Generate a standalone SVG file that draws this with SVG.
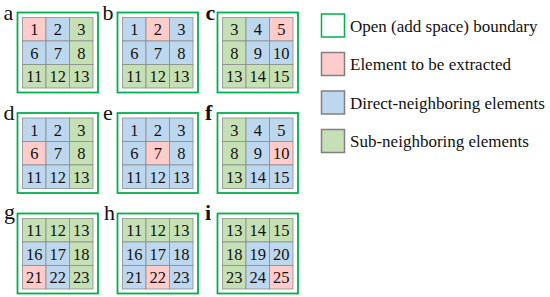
<svg xmlns="http://www.w3.org/2000/svg" width="550" height="297" viewBox="0 0 550 297">
<style>
.bd{fill:#fff;stroke:#00b050;stroke-width:1.8}
.P{fill:#ffcccc;stroke:#8c8c8c;stroke-width:0.8}
.B{fill:#bdd7ee;stroke:#8c8c8c;stroke-width:0.8}
.G{fill:#c5e0b4;stroke:#8c8c8c;stroke-width:0.8}
.n{font-family:"Liberation Serif","DejaVu Serif",serif;font-size:16.5px;fill:#111;text-anchor:middle}
.lb{font-family:"Liberation Serif","DejaVu Serif",serif;font-size:22px;fill:#111}
.lg{font-family:"Liberation Serif","DejaVu Serif",serif;font-size:17px;fill:#111}
.ls{stroke:#808080;stroke-width:1.5}
</style>
<rect width="550" height="297" fill="#fff"/>
<defs>
<g id="frame"><rect class="bd" x="0" y="0" width="80.5" height="80"/></g>
</defs>

<!-- panel a -->
<g id="panel-a" transform="translate(17.5,12.5)">
<use href="#frame"/>
<rect class="P" x="5" y="5" width="23.5" height="23.5"/><rect class="B" x="28.5" y="5" width="23.5" height="23.5"/><rect class="G" x="52" y="5" width="23.5" height="23.5"/>
<rect class="B" x="5" y="28.5" width="23.5" height="23.5"/><rect class="B" x="28.5" y="28.5" width="23.5" height="23.5"/><rect class="G" x="52" y="28.5" width="23.5" height="23.5"/>
<rect class="G" x="5" y="52" width="23.5" height="23.5"/><rect class="G" x="28.5" y="52" width="23.5" height="23.5"/><rect class="G" x="52" y="52" width="23.5" height="23.5"/>
<text class="n" x="16.75" y="22.5">1</text><text class="n" x="40.25" y="22.5">2</text><text class="n" x="63.75" y="22.5">3</text>
<text class="n" x="16.75" y="46">6</text><text class="n" x="40.25" y="46">7</text><text class="n" x="63.75" y="46">8</text>
<text class="n" x="16.75" y="69.5">11</text><text class="n" x="40.25" y="69.5">12</text><text class="n" x="63.75" y="69.5">13</text>
</g>
<text class="lb" x="3.5" y="19.5">a</text>

<!-- panel b -->
<g id="panel-b" transform="translate(117.5,12.5)">
<use href="#frame"/>
<rect class="B" x="5" y="5" width="23.5" height="23.5"/><rect class="P" x="28.5" y="5" width="23.5" height="23.5"/><rect class="B" x="52" y="5" width="23.5" height="23.5"/>
<rect class="B" x="5" y="28.5" width="23.5" height="23.5"/><rect class="B" x="28.5" y="28.5" width="23.5" height="23.5"/><rect class="B" x="52" y="28.5" width="23.5" height="23.5"/>
<rect class="G" x="5" y="52" width="23.5" height="23.5"/><rect class="G" x="28.5" y="52" width="23.5" height="23.5"/><rect class="G" x="52" y="52" width="23.5" height="23.5"/>
<text class="n" x="16.75" y="22.5">1</text><text class="n" x="40.25" y="22.5">2</text><text class="n" x="63.75" y="22.5">3</text>
<text class="n" x="16.75" y="46">6</text><text class="n" x="40.25" y="46">7</text><text class="n" x="63.75" y="46">8</text>
<text class="n" x="16.75" y="69.5">11</text><text class="n" x="40.25" y="69.5">12</text><text class="n" x="63.75" y="69.5">13</text>
</g>
<text class="lb" x="102.5" y="19.5">b</text>

<!-- panel c -->
<g id="panel-c" transform="translate(217.5,12.5)">
<use href="#frame"/>
<rect class="G" x="5" y="5" width="23.5" height="23.5"/><rect class="B" x="28.5" y="5" width="23.5" height="23.5"/><rect class="P" x="52" y="5" width="23.5" height="23.5"/>
<rect class="G" x="5" y="28.5" width="23.5" height="23.5"/><rect class="B" x="28.5" y="28.5" width="23.5" height="23.5"/><rect class="B" x="52" y="28.5" width="23.5" height="23.5"/>
<rect class="G" x="5" y="52" width="23.5" height="23.5"/><rect class="G" x="28.5" y="52" width="23.5" height="23.5"/><rect class="G" x="52" y="52" width="23.5" height="23.5"/>
<text class="n" x="16.75" y="22.5">3</text><text class="n" x="40.25" y="22.5">4</text><text class="n" x="63.75" y="22.5">5</text>
<text class="n" x="16.75" y="46">8</text><text class="n" x="40.25" y="46">9</text><text class="n" x="63.75" y="46">10</text>
<text class="n" x="16.75" y="69.5">13</text><text class="n" x="40.25" y="69.5">14</text><text class="n" x="63.75" y="69.5">15</text>
</g>
<text class="lb" x="205.5" y="19.5" font-weight="bold">c</text>

<!-- panel d -->
<g id="panel-d" transform="translate(17.5,113)">
<use href="#frame"/>
<rect class="B" x="5" y="5" width="23.5" height="23.5"/><rect class="B" x="28.5" y="5" width="23.5" height="23.5"/><rect class="G" x="52" y="5" width="23.5" height="23.5"/>
<rect class="P" x="5" y="28.5" width="23.5" height="23.5"/><rect class="B" x="28.5" y="28.5" width="23.5" height="23.5"/><rect class="G" x="52" y="28.5" width="23.5" height="23.5"/>
<rect class="B" x="5" y="52" width="23.5" height="23.5"/><rect class="B" x="28.5" y="52" width="23.5" height="23.5"/><rect class="G" x="52" y="52" width="23.5" height="23.5"/>
<text class="n" x="16.75" y="22.5">1</text><text class="n" x="40.25" y="22.5">2</text><text class="n" x="63.75" y="22.5">3</text>
<text class="n" x="16.75" y="46">6</text><text class="n" x="40.25" y="46">7</text><text class="n" x="63.75" y="46">8</text>
<text class="n" x="16.75" y="69.5">11</text><text class="n" x="40.25" y="69.5">12</text><text class="n" x="63.75" y="69.5">13</text>
</g>
<text class="lb" x="3.5" y="120">d</text>

<!-- panel e -->
<g id="panel-e" transform="translate(117.5,113)">
<use href="#frame"/>
<rect class="B" x="5" y="5" width="23.5" height="23.5"/><rect class="B" x="28.5" y="5" width="23.5" height="23.5"/><rect class="B" x="52" y="5" width="23.5" height="23.5"/>
<rect class="B" x="5" y="28.5" width="23.5" height="23.5"/><rect class="P" x="28.5" y="28.5" width="23.5" height="23.5"/><rect class="B" x="52" y="28.5" width="23.5" height="23.5"/>
<rect class="B" x="5" y="52" width="23.5" height="23.5"/><rect class="B" x="28.5" y="52" width="23.5" height="23.5"/><rect class="B" x="52" y="52" width="23.5" height="23.5"/>
<text class="n" x="16.75" y="22.5">1</text><text class="n" x="40.25" y="22.5">2</text><text class="n" x="63.75" y="22.5">3</text>
<text class="n" x="16.75" y="46">6</text><text class="n" x="40.25" y="46">7</text><text class="n" x="63.75" y="46">8</text>
<text class="n" x="16.75" y="69.5">11</text><text class="n" x="40.25" y="69.5">12</text><text class="n" x="63.75" y="69.5">13</text>
</g>
<text class="lb" x="103" y="120">e</text>

<!-- panel f -->
<g id="panel-f" transform="translate(217.5,113)">
<use href="#frame"/>
<rect class="G" x="5" y="5" width="23.5" height="23.5"/><rect class="B" x="28.5" y="5" width="23.5" height="23.5"/><rect class="B" x="52" y="5" width="23.5" height="23.5"/>
<rect class="G" x="5" y="28.5" width="23.5" height="23.5"/><rect class="B" x="28.5" y="28.5" width="23.5" height="23.5"/><rect class="P" x="52" y="28.5" width="23.5" height="23.5"/>
<rect class="G" x="5" y="52" width="23.5" height="23.5"/><rect class="B" x="28.5" y="52" width="23.5" height="23.5"/><rect class="B" x="52" y="52" width="23.5" height="23.5"/>
<text class="n" x="16.75" y="22.5">3</text><text class="n" x="40.25" y="22.5">4</text><text class="n" x="63.75" y="22.5">5</text>
<text class="n" x="16.75" y="46">8</text><text class="n" x="40.25" y="46">9</text><text class="n" x="63.75" y="46">10</text>
<text class="n" x="16.75" y="69.5">13</text><text class="n" x="40.25" y="69.5">14</text><text class="n" x="63.75" y="69.5">15</text>
</g>
<text class="lb" x="205" y="120" font-weight="bold">f</text>

<!-- panel g -->
<g id="panel-g" transform="translate(17.5,213.5)">
<use href="#frame"/>
<rect class="G" x="5" y="5" width="23.5" height="23.5"/><rect class="G" x="28.5" y="5" width="23.5" height="23.5"/><rect class="G" x="52" y="5" width="23.5" height="23.5"/>
<rect class="B" x="5" y="28.5" width="23.5" height="23.5"/><rect class="B" x="28.5" y="28.5" width="23.5" height="23.5"/><rect class="G" x="52" y="28.5" width="23.5" height="23.5"/>
<rect class="P" x="5" y="52" width="23.5" height="23.5"/><rect class="B" x="28.5" y="52" width="23.5" height="23.5"/><rect class="G" x="52" y="52" width="23.5" height="23.5"/>
<text class="n" x="16.75" y="22.5">11</text><text class="n" x="40.25" y="22.5">12</text><text class="n" x="63.75" y="22.5">13</text>
<text class="n" x="16.75" y="46">16</text><text class="n" x="40.25" y="46">17</text><text class="n" x="63.75" y="46">18</text>
<text class="n" x="16.75" y="69.5">21</text><text class="n" x="40.25" y="69.5">22</text><text class="n" x="63.75" y="69.5">23</text>
</g>
<text class="lb" x="4" y="219">g</text>

<!-- panel h -->
<g id="panel-h" transform="translate(117.5,213.5)">
<use href="#frame"/>
<rect class="G" x="5" y="5" width="23.5" height="23.5"/><rect class="G" x="28.5" y="5" width="23.5" height="23.5"/><rect class="G" x="52" y="5" width="23.5" height="23.5"/>
<rect class="B" x="5" y="28.5" width="23.5" height="23.5"/><rect class="B" x="28.5" y="28.5" width="23.5" height="23.5"/><rect class="B" x="52" y="28.5" width="23.5" height="23.5"/>
<rect class="B" x="5" y="52" width="23.5" height="23.5"/><rect class="P" x="28.5" y="52" width="23.5" height="23.5"/><rect class="B" x="52" y="52" width="23.5" height="23.5"/>
<text class="n" x="16.75" y="22.5">11</text><text class="n" x="40.25" y="22.5">12</text><text class="n" x="63.75" y="22.5">13</text>
<text class="n" x="16.75" y="46">16</text><text class="n" x="40.25" y="46">17</text><text class="n" x="63.75" y="46">18</text>
<text class="n" x="16.75" y="69.5">21</text><text class="n" x="40.25" y="69.5">22</text><text class="n" x="63.75" y="69.5">23</text>
</g>
<text class="lb" x="104" y="220">h</text>

<!-- panel i -->
<g id="panel-i" transform="translate(217.5,213.5)">
<use href="#frame"/>
<rect class="G" x="5" y="5" width="23.5" height="23.5"/><rect class="G" x="28.5" y="5" width="23.5" height="23.5"/><rect class="G" x="52" y="5" width="23.5" height="23.5"/>
<rect class="G" x="5" y="28.5" width="23.5" height="23.5"/><rect class="B" x="28.5" y="28.5" width="23.5" height="23.5"/><rect class="B" x="52" y="28.5" width="23.5" height="23.5"/>
<rect class="G" x="5" y="52" width="23.5" height="23.5"/><rect class="B" x="28.5" y="52" width="23.5" height="23.5"/><rect class="P" x="52" y="52" width="23.5" height="23.5"/>
<text class="n" x="16.75" y="22.5">13</text><text class="n" x="40.25" y="22.5">14</text><text class="n" x="63.75" y="22.5">15</text>
<text class="n" x="16.75" y="46">18</text><text class="n" x="40.25" y="46">19</text><text class="n" x="63.75" y="46">20</text>
<text class="n" x="16.75" y="69.5">23</text><text class="n" x="40.25" y="69.5">24</text><text class="n" x="63.75" y="69.5">25</text>
</g>
<text class="lb" x="205" y="220" font-weight="bold">i</text>

<!-- legend -->
<g id="legend-open">
<rect x="321.5" y="14" width="23" height="23" fill="#fff" stroke="#00b050" stroke-width="1.5"/>
<text class="lg" x="350" y="31.5">Open (add space) boundary</text>
</g>
<g id="legend-extracted">
<rect class="ls" x="321.5" y="52.5" width="23" height="23" fill="#ffcccc"/>
<text class="lg" x="350" y="70">Element to be extracted</text>
</g>
<g id="legend-direct">
<rect class="ls" x="321.5" y="91" width="23" height="23" fill="#bdd7ee"/>
<text class="lg" x="350" y="108.5">Direct-neighboring elements</text>
</g>
<g id="legend-sub">
<rect class="ls" x="321.5" y="129.5" width="23" height="23" fill="#c5e0b4"/>
<text class="lg" x="350" y="147">Sub-neighboring elements</text>
</g>
<g id="connectors"/>
</svg>
